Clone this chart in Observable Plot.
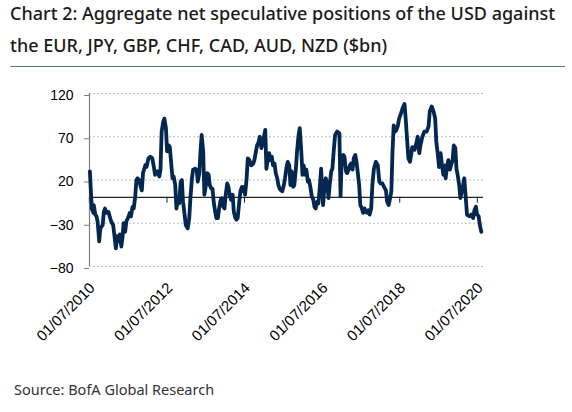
<!DOCTYPE html>
<html><head><meta charset="utf-8">
<script src="https://cdn.jsdelivr.net/npm/d3@7"></script>
<script src="https://cdn.jsdelivr.net/npm/@observablehq/plot@0.6"></script>
<style>
body{margin:0;background:#fff;width:572px;height:412px;overflow:hidden;position:relative;}
#title{position:absolute;left:10px;top:-3px;width:560px;font-family:"Noto Sans",sans-serif;font-weight:500;font-size:18px;line-height:32px;color:#1a1a1a;white-space:nowrap;}
#rule{position:absolute;left:10px;top:66px;width:555px;height:1px;background:#5a7491;}
#chart{position:absolute;left:0;top:70px;}
#source{position:absolute;left:14px;top:379px;font-family:"Noto Sans",sans-serif;font-size:14.5px;color:#333;}
</style></head><body>
<div id="title">Chart 2: Aggregate net speculative positions of the USD against<br>the EUR, JPY, GBP, CHF, CAD, AUD, NZD ($bn)</div>
<div id="rule"></div>
<div id="chart"></div>
<div id="source">Source: BofA Global Research</div>
<script>
const years = [2010.51,2010.54,2010.56,2010.60,2010.61,2010.65,2010.68,2010.71,2010.75,2010.78,2010.84,2010.87,2010.90,2010.94,2010.99,
2011.02,2011.06,2011.11,2011.14,2011.18,2011.21,2011.25,2011.28,2011.32,2011.35,2011.38,2011.42,2011.45,2011.51,2011.54,2011.57,2011.61,2011.64,2011.68,2011.71,2011.74,2011.78,2011.81,2011.85,2011.88,2011.94,2011.97,
2012.02,2012.07,2012.12,2012.16,2012.19,2012.23,2012.26,2012.30,2012.33,2012.36,2012.40,2012.43,2012.47,2012.50,2012.54,2012.57,2012.61,2012.64,2012.67,2012.71,2012.74,2012.78,2012.81,2012.85,2012.88,2012.91,2012.95,2012.98,
2013.03,2013.07,2013.10,2013.14,2013.17,2013.22,2013.26,2013.29,2013.33,2013.36,2013.39,2013.43,2013.46,2013.50,2013.53,2013.57,2013.60,2013.64,2013.67,2013.70,2013.74,2013.77,2013.81,2013.84,2013.88,2013.91,2013.95,2013.98,
2014.01,2014.05,2014.08,2014.12,2014.15,2014.19,2014.22,2014.26,2014.29,2014.32,2014.36,2014.39,2014.43,2014.46,2014.48,2014.51,2014.55,2014.58,2014.62,2014.67,2014.72,2014.75,2014.79,2014.82,2014.86,2014.89,2014.93,2014.96,2014.99,
2015.03,2015.06,2015.10,2015.13,2015.16,2015.20,2015.23,2015.27,2015.30,2015.34,2015.37,2015.40,2015.44,2015.47,2015.51,2015.54,2015.58,2015.61,2015.65,2015.68,2015.71,2015.75,2015.78,2015.82,2015.85,2015.89,2015.92,2015.96,2015.99,
2016.02,2016.06,2016.09,2016.13,2016.16,2016.20,2016.23,2016.27,2016.30,2016.33,2016.37,2016.40,2016.44,2016.47,2016.52,2016.56,2016.59,2016.63,2016.66,2016.69,2016.73,2016.76,2016.80,2016.83,2016.88,2016.94,2016.97,
2017.00,2017.04,2017.07,2017.11,2017.14,2017.18,2017.21,2017.24,2017.28,2017.31,2017.35,2017.38,2017.41,2017.45,2017.48,2017.52,2017.55,2017.59,2017.62,2017.66,2017.69,2017.72,2017.76,2017.79,2017.83,2017.88,2017.93,2017.97,
2018.00,2018.05,2018.09,2018.14,2018.17,2018.21,2018.24,2018.28,2018.31,2018.34,2018.38,2018.41,2018.45,2018.48,2018.53,2018.57,2018.62,2018.65,2018.69,2018.72,2018.76,2018.79,2018.82,2018.88,2018.93,2018.96,
2019.00,2019.03,2019.08,2019.13,2019.19,2019.24,2019.27,2019.32,2019.37,2019.41,2019.44,2019.48,2019.51,2019.55,2019.58,2019.62,2019.65,2019.68,2019.72,2019.75,2019.79,2019.82,2019.86,2019.89,2019.93,2019.96,2019.99,
2020.03,2020.06,2020.10,2020.13,2020.16,2020.20,2020.23,2020.29,2020.34,2020.39,2020.42,2020.46,2020.49,2020.53,2020.56,2020.60];
const values = [30,3,-13,-18,-9,-20,-22,-28,-51,-36,-32,-17,-13,-18,-17,
-22,-28,-32,-43,-59,-45,-51,-43,-57,-47,-30,-40,-28,-22,-18,-22,-11,-13,1,20,22,20,14,8,28,37,35,
45,47,45,35,26,28,30,24,32,76,87,91,80,53,60,58,37,22,24,14,-13,-1,-7,18,20,-5,-20,-32,
-36,-24,-1,22,32,33,32,18,28,53,72,53,3,14,28,26,14,10,10,-5,-17,-24,-24,-13,-3,-1,-11,-13,
3,16,12,1,-3,3,-17,-24,-26,-24,-5,7,12,7,12,3,22,45,43,37,39,43,53,60,64,70,57,62,68,
78,33,45,51,43,47,37,39,28,22,14,10,8,7,14,22,35,41,37,14,30,12,14,33,53,72,80,53,26,
37,26,32,18,20,10,1,-3,-11,-13,-5,-7,14,33,-9,14,22,14,-1,14,30,33,57,72,76,74,1,
45,49,47,30,28,32,37,39,32,45,49,41,30,14,-9,-13,-18,-13,-17,-18,-15,-20,-13,14,33,41,37,18,
16,16,12,8,-5,-9,-3,7,53,83,76,78,83,91,97,103,108,91,64,45,41,49,58,55,64,70,
51,60,70,76,76,82,99,105,99,91,64,49,35,51,39,26,37,22,37,43,32,37,43,60,57,33,26,
14,-1,7,14,22,-1,-20,-22,-20,-24,-15,-11,-20,-22,-32,-40];
const yTicks = [120, 70, 20, -30, -80];
const labelYears = [2010, 2012, 2014, 2016, 2018, 2020];
const xStartYear = 2010.5, xEndYear = 2020.655;

function toDate(t) {
  const y = Math.floor(t);
  const s = Date.UTC(y, 0, 1), e = Date.UTC(y + 1, 0, 1);
  return new Date(s + (t - y) * (e - s));
}
const data = years.map((t, i) => ({date: toDate(t), value: values[i]}));
const tickDates = labelYears.map(y => new Date(Date.UTC(y, 6, 1)));
const fmt = d3.utcFormat("%d/%m/%Y");
const tickShape = {draw(c, l) { c.moveTo(0, 0); c.lineTo(0, -l); }};

const chart = Plot.plot({
  width: 572, height: 300,
  marginTop: 23, marginBottom: 104, marginLeft: 89, marginRight: 89,
  style: {fontFamily: "'Liberation Sans', Arial, sans-serif", fontSize: "14px", color: "#000", background: "transparent", overflow: "visible"},
  x: {type: "utc", domain: [toDate(xStartYear), toDate(xEndYear)]},
  y: {domain: [-80, 120]},
  marks: [
    Plot.ruleY(yTicks, {stroke: "#bdbdbd", strokeDasharray: "2,2", strokeWidth: 1}),
    Plot.ruleY([0], {stroke: "#222", strokeWidth: 1.3}),
    Plot.vector(tickDates, {x: d => d, y: 0, length: 5, rotate: 180, anchor: "start", shape: tickShape, stroke: "#222", strokeWidth: 1}),
    Plot.ruleX([toDate(xStartYear)], {stroke: "#7f7f7f", strokeWidth: 1.2}),
    Plot.axisY({ticks: yTicks, tickSize: 5, tickPadding: 11, stroke: "#7f7f7f", dy: 2, fontSize: 14, label: null}),
    Plot.axisX({ticks: tickDates, tickFormat: fmt, tickRotate: -45, tickSize: 0, tickPadding: 19, dx: 3, fontSize: 15, label: null}),
    Plot.line(data, {x: "date", y: "value", stroke: "#03274f", strokeWidth: 3.8, strokeLinejoin: "round", strokeLinecap: "round"})
  ]
});
document.getElementById("chart").appendChild(chart);
</script>
</body></html>
